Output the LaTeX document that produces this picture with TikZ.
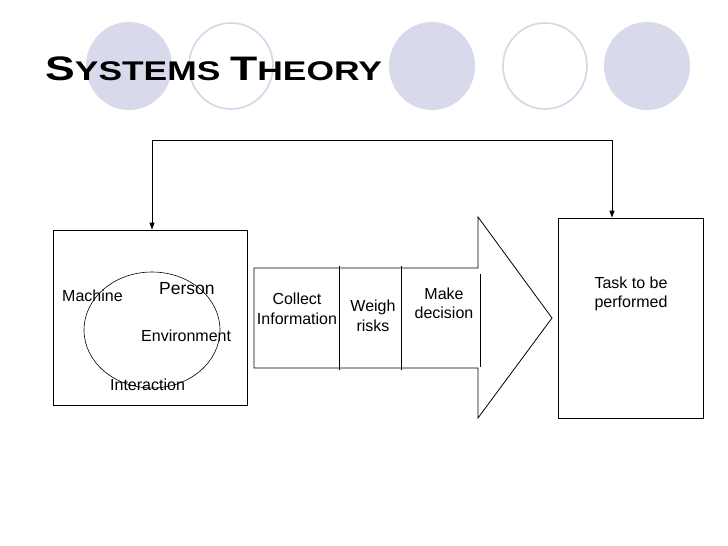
\documentclass[tikz,border=0pt]{standalone}
\usepackage{fontspec}
\setmainfont{Liberation Sans}
\usetikzlibrary{arrows.meta}
\definecolor{lav}{RGB}{217,217,236}
\definecolor{lavline}{RGB}{214,214,232}
\tikzset{
  dot/.style={fill=lav,draw=none},
  ring/.style={draw=lavline,line width=1.6pt,fill=white},
  lbl/.style={font=\fontsize{16}{19.5}\selectfont,inner sep=0pt,align=center},
  box/.style={draw=black,line width=0.8pt},
  fb/.style={draw=black,line width=0.8pt,-{Triangle[length=7pt,width=5pt]}}
}
\begin{document}
\begin{tikzpicture}[x=1pt,y=-1pt]
\useasboundingbox (0,0) rectangle (728,546);
\fill[white] (0,0) rectangle (728,546);
% decorative circles
\path[dot] (129,66) ellipse [x radius=43,y radius=44];
\path[ring] (231,66) ellipse [x radius=42,y radius=43];
\path[dot] (432,66) ellipse [x radius=43,y radius=44];
\path[ring] (545,66) ellipse [x radius=42,y radius=43];
\path[dot] (647,66) ellipse [x radius=43,y radius=44];
% title
\node[anchor=base west,inner sep=0pt] (title) at (45,80)
  {\bfseries\scalebox{1.31}[1]{\fontsize{34}{34}\selectfont S\fontsize{27}{27}\selectfont YSTEMS\ \fontsize{34}{34}\selectfont T\fontsize{27}{27}\selectfont HEORY}};
% left box
\node[box,minimum width=194pt,minimum height=175pt,inner sep=0pt] (left) at (150,317.5) {};
\draw[line width=0.6pt] (152,330) ellipse [x radius=68,y radius=58];
\node[lbl,anchor=base west] (mach) at (62,301) {Machine};
\node[lbl,anchor=base west,font=\fontsize{17.5}{20}\selectfont] (pers) at (159,294) {Person};
\node[lbl,anchor=base west] (env) at (141,341) {Environment};
\node[lbl,anchor=base west] (inter) at (110,390) {Interaction};
% block arrow
\draw[box] (254,268) -- (478,268) -- (478,217) -- (552,318) -- (478,418) -- (478,368) -- (254,368) -- cycle;
\coordinate (d1t) at (339,266); \coordinate (d1b) at (339,370);
\coordinate (d2t) at (401,266); \coordinate (d2b) at (401,370);
\coordinate (d3t) at (480,274); \coordinate (d3b) at (480,367);
\draw[line width=0.8pt] (d1t) -- (d1b);
\draw[line width=0.8pt] (d2t) -- (d2b);
\draw[line width=0.8pt] (d3t) -- (d3b);
\node[lbl] (collect) at (297,309) {Collect\\Information};
\node[lbl] (weigh) at (373,316) {Weigh\\risks};
\node[lbl] (make) at (444,303.5) {Make\\decision};
% right box
\node[box,minimum width=145pt,minimum height=200pt,inner sep=0pt] (right) at (630.5,318) {};
\node[lbl] (task) at (631,294) {Task to be\\performed};
% feedback
\coordinate (fl) at (152,140);
\coordinate (fr) at (612,140);
\draw[line width=0.8pt] (fl) -- (fr);
\draw[fb] (fl) -- (left.north -| fl);
\draw[fb] (fr) -- (right.north -| fr);
\end{tikzpicture}
\end{document}
